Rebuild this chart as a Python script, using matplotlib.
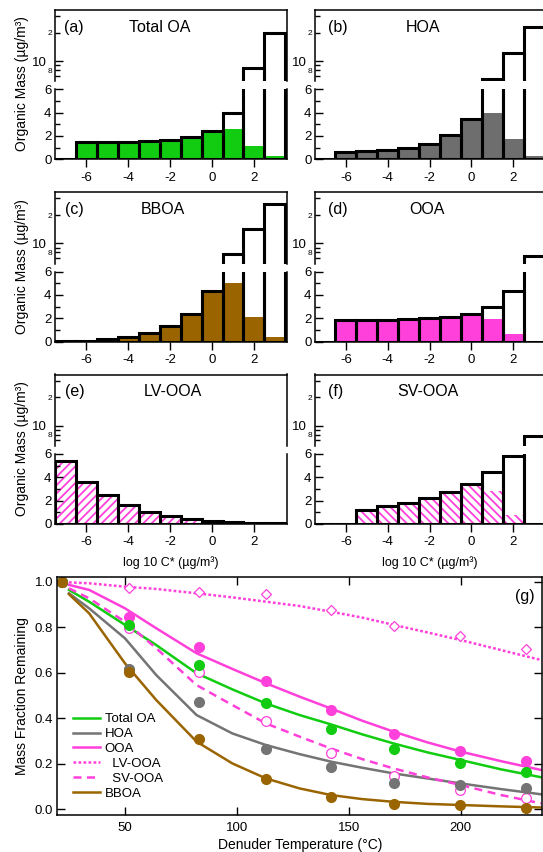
import numpy as np
import matplotlib
matplotlib.use('Agg')
import matplotlib.pyplot as plt

plt.rcParams['font.family'] = ['Liberation Sans', 'DejaVu Sans']
plt.rcParams['axes.unicode_minus'] = False
plt.rcParams['hatch.linewidth'] = 1.3

# volatility bins (log10 C*)
bins = np.arange(-7, 4)

# histogram data: total mass (black outline) and mass remaining (fill)
toa_total = [0, 1.45, 1.45, 1.45, 1.55, 1.65, 1.9, 2.4, 4.0, 8.5, 20]
toa_remain = [0, 1.45, 1.45, 1.45, 1.55, 1.65, 1.9, 2.4, 2.6, 1.17, 0.25]
hoa_total = [0, 0.65, 0.7, 0.8, 1.0, 1.3, 2.05, 3.45, 6.4, 12.1, 22.9]
hoa_remain = [0, 0.65, 0.7, 0.8, 1.0, 1.3, 2.05, 3.45, 4.0, 1.7, 0.3]
bboa_total = [0.05, 0.05, 0.25, 0.43, 0.7, 1.35, 2.4, 4.3, 7.7, 14.1, 26]
bboa_remain = [0.05, 0.05, 0.25, 0.43, 0.7, 1.35, 2.4, 4.3, 5.05, 2.1, 0.4]
ooa_total = [0, 1.85, 1.85, 1.85, 1.9, 2.0, 2.1, 2.35, 2.95, 4.3, 7.3]
ooa_remain = [0, 1.85, 1.85, 1.85, 1.9, 2.0, 2.1, 2.35, 1.9, 0.62, 0.05]
lvooa_total = [5.36, 3.59, 2.44, 1.58, 1.06, 0.69, 0.4, 0.26, 0.15, 0.1, 0.05]
lvooa_remain = [5.36, 3.59, 2.44, 1.58, 1.06, 0.69, 0.4, 0.26, 0.15, 0.1, 0.05]
svooa_total = [0, 0, 1.22, 1.5, 1.77, 2.23, 2.77, 3.43, 4.48, 5.83, 7.7]
svooa_remain = [0, 0, 1.22, 1.5, 1.77, 2.23, 2.77, 3.43, 2.85, 0.77, 0.0]

# thermodenuder data (points)
temps = [22, 52, 83, 113, 142, 170, 199.5, 229]
frac_toa = [1.0, 0.81, 0.634, 0.468, 0.351, 0.264, 0.201, 0.162]
frac_hoa = [1.0, 0.617, 0.473, 0.263, 0.186, 0.117, 0.106, 0.091]
frac_ooa = [1.0, 0.847, 0.712, 0.564, 0.436, 0.330, 0.257, 0.211]
frac_lv = [1.0, 0.975, 0.954, 0.947, 0.877, 0.806, 0.762, 0.705]
frac_sv = [1.0, 0.796, 0.605, 0.389, 0.248, 0.147, 0.084, 0.05]
frac_bboa = [1.0, 0.602, 0.308, 0.131, 0.054, 0.021, 0.018, 0.007]

# model curves
fit_t = [25, 34, 50, 64, 82, 98, 113, 128, 142, 156, 170, 185, 200, 218, 236]
fit_toa = [0.965, 0.913, 0.811, 0.722, 0.598, 0.527, 0.465, 0.414, 0.373, 0.329, 0.289, 0.250, 0.216, 0.175, 0.140]
fit_ooa = [0.987, 0.965, 0.884, 0.796, 0.686, 0.617, 0.554, 0.495, 0.443, 0.389, 0.341, 0.294, 0.253, 0.211, 0.172]
fit_hoa = [0.95, 0.884, 0.752, 0.590, 0.414, 0.333, 0.282, 0.242, 0.209, 0.182, 0.157, 0.135, 0.113, 0.088, 0.065]
fit_bboa = [0.946, 0.862, 0.642, 0.480, 0.297, 0.201, 0.135, 0.091, 0.062, 0.044, 0.032, 0.023, 0.018, 0.012, 0.007]
fit_sv = [0.972, 0.928, 0.825, 0.708, 0.546, 0.458, 0.377, 0.319, 0.267, 0.220, 0.179, 0.140, 0.106, 0.062, 0.025]
fit_lv = [0.998, 0.994, 0.979, 0.969, 0.950, 0.932, 0.913, 0.894, 0.869, 0.843, 0.811, 0.778, 0.744, 0.700, 0.656]

GREEN = '#11CC11'
GRAY = '#747474'
PINK = '#FF40DA'
BROWN = '#9A6500'

W, H = 543, 852
fig = plt.figure(figsize=(W / 100, H / 100), dpi=100)


def box(x0, x1, y0, y1):
    # pixel box -> figure fraction
    return [x0 / W, 1 - y1 / H, (x1 - x0) / W, (y1 - y0) / H]


col_x = [(55, 287), (315, 543)]
col_lim = [(-7.5, 3.58), (-7.48, 3.43)]


def hist_panel(col, row, total, remain, color, hatch, tag, name, name_x):
    total = np.array(total)
    x0, x1 = col_x[col]
    top = 9.9 + 182.3 * row
    ax_up = fig.add_axes(box(x0, x1, top, top + 71.3))
    ax_lo = fig.add_axes(box(x0, x1, top + 79.4, top + 149.4))

    # lower linear segment
    if hatch:
        ax_lo.bar(bins, remain, width=1, facecolor='white', edgecolor=color, lw=0, hatch=hatch)
    else:
        ax_lo.bar(bins, remain, width=1, color=color, lw=0)
    ax_lo.bar(bins, total, width=1, fill=False, edgecolor='black', lw=2.2)
    ax_lo.set_xlim(*col_lim[col])
    ax_lo.set_ylim(0, 6)
    ax_lo.set_yticks([0, 2, 4, 6])
    ax_lo.set_yticks([1, 3, 5], minor=True)
    ax_lo.set_xticks([-6, -4, -2, 0, 2])
    ax_lo.tick_params(axis='y', which='major', direction='in', length=6, width=1, labelsize=9.5, pad=2.5)
    ax_lo.tick_params(axis='y', which='minor', direction='in', length=3.6, width=1)
    ax_lo.tick_params(axis='x', which='major', direction='out', length=6, width=1, labelsize=9.5, pad=3)
    ax_lo.spines['top'].set_visible(False)

    # upper log segment
    ax_up.set_yscale('log')
    big = total > 6
    ax_up.bar(bins[big], total[big] - 1, bottom=1, width=1, fill=False, edgecolor='black', lw=2.2)
    ax_up.set_xlim(*col_lim[col])
    ax_up.set_ylim(6.1, 35)
    ax_up.set_yticks([10], labels=['10'])
    ax_up.set_yticks([7, 8, 9, 20, 30], labels=['', '8', '', '2', ''], minor=True)
    ax_up.tick_params(axis='y', which='major', direction='in', length=6, width=1, labelsize=9.5, pad=6)
    ax_up.tick_params(axis='y', which='minor', direction='in', length=3.6, width=1, labelsize=6, pad=2)
    ax_up.tick_params(axis='x', which='both', bottom=False, labelbottom=False)
    ax_up.spines['bottom'].set_visible(False)

    for ax in (ax_up, ax_lo):
        for s in ax.spines.values():
            s.set_linewidth(1.1)
        if col == 1:
            ax.spines['right'].set_visible(False)

    tr = ax_up.get_xaxis_transform()
    ax_up.text(tag[1], 0.76, tag[0], transform=tr, fontsize=11.5, ha='left', va='center')
    ax_up.text(name_x, 0.76, name, transform=tr, fontsize=11.5, ha='center', va='center')

    if col == 0:
        fig.text(22 / W, 1 - (top + 74) / H, 'Organic Mass (µg/m³)', rotation=90,
                 ha='center', va='center', fontsize=10)


hist_panel(0, 0, toa_total, toa_remain, GREEN, None, ('(a)', -7.05), 'Total OA', -2.48)
hist_panel(1, 0, hoa_total, hoa_remain, '#6E6E6E', None, ('(b)', -6.86), 'HOA', -2.33)
hist_panel(0, 1, bboa_total, bboa_remain, BROWN, None, ('(c)', -7.0), 'BBOA', -2.33)
hist_panel(1, 1, ooa_total, ooa_remain, PINK, None, ('(d)', -6.86), 'OOA', -2.14)
hist_panel(0, 2, lvooa_total, lvooa_remain, PINK, '////', ('(e)', -7.0), 'LV-OOA', -1.86)
hist_panel(1, 2, svooa_total, svooa_remain, PINK, '\\\\\\\\', ('(f)', -6.86), 'SV-OOA', -2.1)

fig.text(171 / W, 1 - 563 / H, 'log 10 C* (µg/m³)', ha='center', va='center', fontsize=9)
fig.text(430 / W, 1 - 563 / H, 'log 10 C* (µg/m³)', ha='center', va='center', fontsize=9)

# (g) thermogram
ax = fig.add_axes(box(57.3, 542, 576.7, 815))
l1, = ax.plot(fit_t, fit_toa, color=GREEN, lw=1.8)
l2, = ax.plot(fit_t, fit_hoa, color=GRAY, lw=1.8)
l3, = ax.plot(fit_t, fit_ooa, color=PINK, lw=1.8)
l4, = ax.plot(fit_t, fit_lv, color=PINK, lw=1.8, ls=(0, (1.1, 0.9)))
l5, = ax.plot(fit_t, fit_sv, color=PINK, lw=1.8, ls=(0, (3.2, 2.2)))
l6, = ax.plot(fit_t, fit_bboa, color=BROWN, lw=1.8)

ax.plot(temps, frac_lv, ls='none', marker='D', ms=5.5, mfc='white', mec=PINK, mew=0.9)
ax.plot(temps, frac_sv, ls='none', marker='o', ms=7, mfc='white', mec=PINK, mew=0.9)
ax.plot(temps, frac_ooa, ls='none', marker='o', ms=7, color=PINK)
ax.plot(temps, frac_toa, ls='none', marker='o', ms=7, color=GREEN)
ax.plot(temps, frac_hoa, ls='none', marker='o', ms=7, color=GRAY)
ax.plot(temps, frac_bboa, ls='none', marker='o', ms=7, color=BROWN)

ax.set_xlim(19.8, 236.3)
ax.set_ylim(-0.026, 1.023)
ax.set_xticks([50, 100, 150, 200])
ax.set_yticks([0, 0.2, 0.4, 0.6, 0.8, 1.0], labels=['0.0', '0.2', '0.4', '0.6', '0.8', '1.0'])
ax.tick_params(direction='in', top=True, right=True, length=6, width=1, labelsize=9.5)
ax.tick_params(axis='x', pad=5)
ax.tick_params(axis='y', pad=3)
for s in ax.spines.values():
    s.set_linewidth(1.1)

ax.legend([l1, l2, l3, l4, l5, l6],
          ['Total OA', 'HOA', 'OOA', '  LV-OOA', '  SV-OOA', 'BBOA'],
          loc='upper left', bbox_to_anchor=(0.032, 0.428), frameon=False,
          fontsize=9.5, borderpad=0, borderaxespad=0, handlelength=2.05,
          handletextpad=0.38, labelspacing=0.2)
ax.text(0.964, 0.916, '(g)', transform=ax.transAxes, fontsize=11.5, ha='center', va='center')

fig.text(22 / W, 1 - 696 / H, 'Mass Fraction Remaining', rotation=90, ha='center', va='center', fontsize=10)
fig.text(300 / W, 1 - 845 / H, 'Denuder Temperature (°C)', ha='center', va='center', fontsize=10)

fig.savefig('out.png', dpi=100)
